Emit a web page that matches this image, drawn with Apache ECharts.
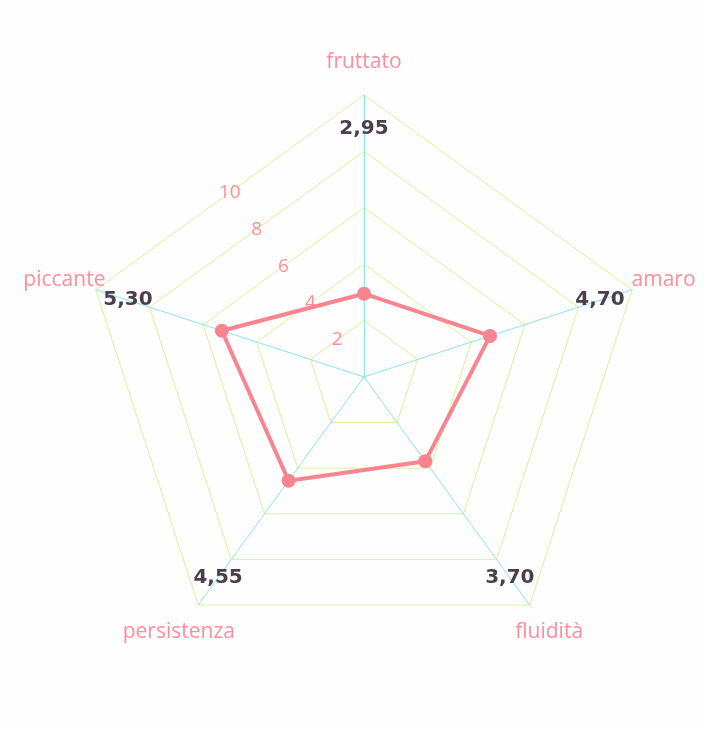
<!DOCTYPE html>
<html>
<head>
<meta charset="utf-8">
<script src="https://cdn.jsdelivr.net/npm/echarts@6/dist/echarts.min.js"></script>
<style>
html,body{margin:0;padding:0;background:#fefefe;}
#chart{width:704px;height:729px;}
</style>
</head>
<body>
<div id="chart"></div>
<script>
// indicators listed counter-clockwise from the top (ECharts radar order)
const indicators = ['fruttato', 'piccante', 'persistenza', 'fluidità', 'amaro'];
const values = [2.95, 5.30, 4.55, 3.70, 4.70];
const tickLabels = [2, 4, 6, 8, 10];
const axisMax = 10;

const center = ['51.7%', '51.7%'];
const R = 282;
const pink = '#ff8d9c';
const lineColor = '#f7848f';

const fmt = v => v.toFixed(2).replace('.', ',');

const chart = echarts.init(document.getElementById('chart'));
chart.setOption({
  backgroundColor: '#fefefe',
  animation: false,
  radar: [
    {
      center: center,
      radius: R,
      startAngle: 90,
      splitNumber: tickLabels.length,
      shape: 'polygon',
      indicator: indicators.map(n => ({ name: n, min: 0, max: axisMax })),
      nameGap: 33,
      axisName: {
        color: pink,
        fontFamily: 'Open Sans',
        fontSize: 21,
        align: 'center',
        verticalAlign: 'middle',
        padding: [12, 0, 0, 0]
      },
      axisLine: { lineStyle: { color: '#8ee3f0', width: 1 } },
      splitLine: { lineStyle: { color: '#d9f29a', width: 1 } },
      splitArea: { show: false },
      axisTick: { show: false },
      axisLabel: { show: false }
    },
    {
      center: center,
      radius: R * 0.88,
      startAngle: 90,
      splitNumber: 1,
      shape: 'polygon',
      indicator: values.map(v => ({ name: fmt(v), min: 0, max: axisMax })),
      nameGap: 0,
      axisName: {
        color: '#4b3f4b',
        fontFamily: 'DejaVu Sans',
        fontWeight: 'bold',
        fontSize: 20,
        align: 'center',
        verticalAlign: 'middle',
        padding: [8, 0, 0, 0]
      },
      axisLine: { show: false },
      splitLine: { show: false },
      splitArea: { show: false },
      axisTick: { show: false },
      axisLabel: { show: false }
    }
  ],
  polar: { center: center, radius: R * Math.cos(Math.PI / 5) },
  angleAxis: {
    type: 'value', startAngle: 126, min: 0, max: 360, show: false
  },
  radiusAxis: {
    type: 'value', min: 0, max: axisMax, interval: tickLabels[1] - tickLabels[0],
    axisLine: { show: false }, axisTick: { show: false }, splitLine: { show: false },
    axisLabel: {
      showMinLabel: false,
      margin: 0,
      align: 'center',
      verticalAlign: 'middle',
      color: pink,
      fontFamily: 'Open Sans',
      fontSize: 19,
      formatter: v => tickLabels.includes(v) ? String(v) : ''
    }
  },
  series: [{
    type: 'radar',
    radarIndex: 0,
    symbol: 'circle',
    symbolSize: 14,
    lineStyle: { color: lineColor, width: 4 },
    itemStyle: { color: lineColor },
    data: [{ value: values }]
  }]
});
</script>
</body>
</html>
